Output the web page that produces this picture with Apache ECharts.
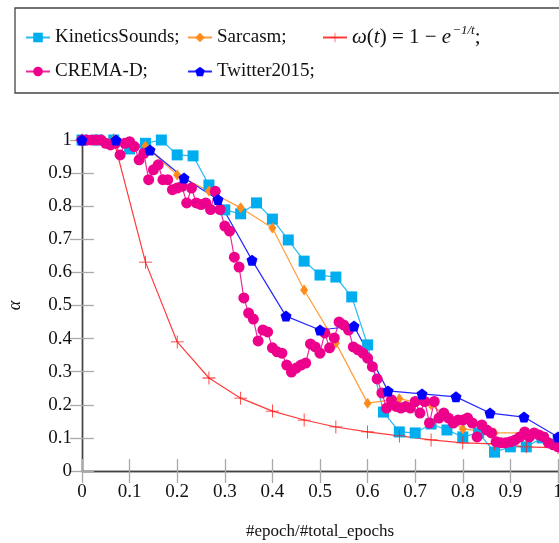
<!DOCTYPE html>
<html>
<head>
<meta charset="utf-8">
<script src="https://cdn.jsdelivr.net/npm/echarts@6/dist/echarts.min.js"></script>
<style>
  html, body { margin: 0; padding: 0; background: #fff; }
  #chart { width: 559px; height: 543px; }
</style>
</head>
<body>
<div id="chart"></div>
<script>
  // alpha per training progress (epoch / total epochs)
  var kineticsY = [1.0, 1.0, 1.0, 0.973, 0.99, 1.0, 0.955, 0.952, 0.864, 0.789, 0.777, 0.81, 0.761, 0.698,
    0.634, 0.592, 0.586, 0.526, 0.381, 0.178, 0.118, 0.115, 0.142, 0.124, 0.103, 0.115, 0.057, 0.073,
    0.073, 0.1, 0.085]
  var sarcasmY = [1.0, 1.0, 0.982, 0.894, 0.846, 0.795, 0.734, 0.547, 0.387, 0.205, 0.218, 0.2, 0.127,
    0.115, 0.115, 0.08]
  var omegaY = [1.0, 1.0, 0.631, 0.39, 0.281, 0.22, 0.181, 0.154, 0.133, 0.118, 0.106, 0.094, 0.085,
    0.082, 0.073, 0.07]
  var cremaY = [1, 1, 1, 1, 1, 0.99, 0.985, 0.99, 0.955, 0.99, 0.995, 0.98, 0.94, 0.96, 0.88, 0.91,
    0.925, 0.88, 0.88, 0.85, 0.855, 0.86, 0.81, 0.855, 0.81, 0.805, 0.81, 0.79, 0.845, 0.79, 0.74,
    0.725, 0.646, 0.616, 0.523, 0.477, 0.459, 0.393, 0.426, 0.42, 0.372, 0.36, 0.356, 0.32, 0.299,
    0.311, 0.32, 0.326, 0.384, 0.375, 0.356, 0.417, 0.372, 0.402, 0.45, 0.441, 0.426, 0.375, 0.366,
    0.356, 0.341, 0.315, 0.278, 0.236, 0.19, 0.215, 0.195, 0.19, 0.195, 0.19, 0.21, 0.175, 0.21,
    0.145, 0.21, 0.16, 0.175, 0.16, 0.145, 0.154, 0.154, 0.16, 0.145, 0.103, 0.139, 0.124, 0.115,
    0.088, 0.085, 0.085, 0.088, 0.094, 0.103, 0.118, 0.103, 0.115, 0.109, 0.103, 0.085, 0.079, 0.073]
  var twitterY = [1.0, 1.0, 0.97, 0.885, 0.82, 0.637, 0.468, 0.426, 0.438, 0.242, 0.233, 0.224, 0.175,
    0.163, 0.103]
  var axisTicks = ['0', '0.1', '0.2', '0.3', '0.4', '0.5', '0.6', '0.7', '0.8', '0.9', '1']

  var serif = 'Liberation Serif'
  var pentagon = 'path://M0,-10 L9.51,-3.09 L5.88,8.09 L-5.88,8.09 L-9.51,-3.09 Z'
  var plus = 'path://M-0.6,-10 L0.6,-10 L0.6,-0.6 L10,-0.6 L10,0.6 L0.6,0.6 L0.6,10 L-0.6,10 L-0.6,0.6 L-10,0.6 L-10,-0.6 L-0.6,-0.6 Z'

  // spread the values evenly over [0, 1]
  function pairs(ys) {
    return ys.map(function (y, i) { return [i / (ys.length - 1), y] })
  }

  function line(name, ys, color, symbol, size) {
    return {
      name: name,
      type: 'line',
      data: pairs(ys),
      symbol: symbol,
      symbolSize: size,
      itemStyle: { color: color },
      lineStyle: { color: color, width: 1.2, opacity: 0.85 },
      animation: false
    }
  }

  function legendAt(name, left, top) {
    return {
      data: [name],
      left: left,
      top: top,
      padding: 0,
      itemWidth: 24,
      itemHeight: 12,
      itemGap: 6,
      selectedMode: false,
      textStyle: {
        fontFamily: serif, fontSize: 19, color: '#111',
        rich: {
          a: { fontFamily: serif, fontSize: 21, color: '#111' },
          i: { fontFamily: serif, fontSize: 21, fontStyle: 'italic', color: '#111' },
          s: { fontFamily: serif, fontSize: 13, fontStyle: 'italic', color: '#111', padding: [0, 0, 14, 1] }
        }
      },
      formatter: function (n) {
        if (n === 'omega') return '{i|ω}{a|(}{i|t}{a|) = 1 − }{i|e}{s|−1/t}{a|;}'
        return n
      }
    }
  }

  var axisCommon = {
    type: 'value', min: 0, max: 1, interval: 0.1,
    axisLine: { lineStyle: { color: '#444', width: 1.4 } },
    axisTick: { inside: true, length: 12, lineStyle: { color: '#aaa', width: 1.3 } },
    splitLine: { show: false }
  }

  var chart = echarts.init(document.getElementById('chart'))
  chart.setOption({
    backgroundColor: '#fff',
    grid: { left: 82, right: 1, top: 140, bottom: 72, containLabel: false, outerBoundsMode: 'none' },
    graphic: [{
      type: 'rect',
      shape: { x: 15, y: 8, width: 580, height: 85 },
      style: { fill: 'none', stroke: '#444', lineWidth: 1.3 }
    }],
    legend: [
      legendAt('KineticsSounds;', 25, 28),
      legendAt('Sarcasm;', 187, 28),
      legendAt('omega', 322, 24),
      legendAt('CREMA-D;', 25, 62),
      legendAt('Twitter2015;', 187, 62)
    ],
    xAxis: [
      Object.assign({}, axisCommon, {
        position: 'bottom',
        name: '#epoch/#total_epochs',
        nameLocation: 'middle',
        nameGap: 52,
        nameTextStyle: { fontFamily: serif, fontSize: 17, color: '#111' },
        axisLabel: {
          fontFamily: serif, fontSize: 19, color: '#111', margin: 12,
          formatter: function (v) { return axisTicks[Math.round(v * 10)] }
        }
      }),
      Object.assign({}, axisCommon, { position: 'top', axisLabel: { show: false } })
    ],
    yAxis: [
      Object.assign({}, axisCommon, {
        position: 'left',
        name: 'α',
        nameLocation: 'middle',
        nameGap: 58,
        nameRotate: 90,
        nameTextStyle: { fontFamily: serif, fontSize: 18, fontStyle: 'italic', color: '#111' },
        axisLabel: {
          fontFamily: serif, fontSize: 19, color: '#111', margin: 10,
          formatter: function (v) { return axisTicks[Math.round(v * 10)] }
        }
      }),
      Object.assign({}, axisCommon, { position: 'right', axisLabel: { show: false } })
    ],
    series: [
      line('KineticsSounds;', kineticsY, '#00aeef', 'rect', 11),
      line('Sarcasm;', sarcasmY, '#ff8c1a', 'diamond', [8, 11]),
      line('omega', omegaY, '#ff1a1a', plus, 13),
      line('CREMA-D;', cremaY, '#ec008c', 'circle', 11),
      line('Twitter2015;', twitterY, '#0000ff', pentagon, 11)
    ]
  })
</script>
</body>
</html>
